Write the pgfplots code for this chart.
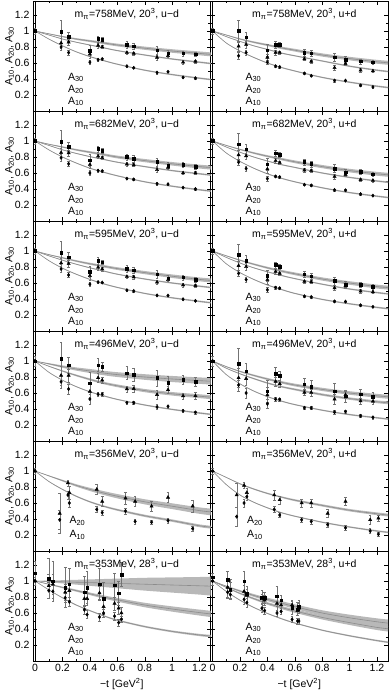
\documentclass[border=0pt]{standalone}
\usepackage{fontspec}
\setmainfont{Liberation Sans}
\usepackage{pgfplots}
\usepackage{pgfplotstable}
\pgfplotsset{compat=1.18}
\usepgfplotslibrary{groupplots,fillbetween}
\usetikzlibrary{calc}

% ---------- fitted curves: t, centre and half width of each band ----------
\pgfplotstableread{
t c1 w1 c2 w2 c3 w3
0 1 0 1 0 1 0
.1 .90 .002 .95 .002 .965 .004
.2 .815 .004 .90 .004 .93 .008
.3 .74 .005 .86 .005 .90 .011
.4 .68 .006 .825 .006 .875 .013
.5 .63 .007 .79 .007 .85 .015
.6 .585 .007 .755 .007 .825 .017
.8 .51 .008 .70 .008 .785 .02
1.0 .455 .009 .65 .009 .75 .022
1.2 .41 .01 .61 .01 .72 .024
1.3 .39 .01 .59 .01 .705 .025
}\CAl
\pgfplotstableread{
t c1 w1 c2 w2 c3 w3
0 1 0 1 0 1 0
.1 .85 .002 .93 .002 .95 .004
.2 .75 .004 .87 .004 .90 .008
.3 .67 .005 .815 .005 .86 .011
.4 .60 .006 .77 .006 .825 .013
.5 .545 .007 .725 .007 .79 .015
.6 .50 .007 .69 .007 .76 .017
.8 .42 .008 .625 .008 .70 .02
1.0 .36 .009 .56 .009 .655 .022
1.2 .31 .01 .51 .01 .615 .024
1.3 .29 .01 .49 .01 .60 .025
}\CAr
\pgfplotstableread{
t c1 w1 c2 w2 c3 w3
0 1 0 1 0 1 0
.1 .89 .002 .945 .002 .96 .004
.2 .80 .004 .89 .004 .925 .008
.3 .725 .005 .845 .005 .89 .011
.4 .66 .006 .805 .006 .86 .013
.5 .61 .007 .77 .007 .83 .015
.6 .565 .007 .735 .007 .80 .017
.8 .49 .008 .68 .008 .755 .02
1.0 .435 .009 .63 .009 .715 .022
1.2 .39 .01 .59 .01 .68 .024
1.3 .37 .01 .57 .01 .665 .025
}\CBl
\pgfplotstableread{
t c1 w1 c2 w2 c3 w3
0 1 0 1 0 1 0
.1 .85 .002 .925 .002 .945 .004
.2 .745 .004 .86 .004 .895 .008
.3 .66 .005 .80 .005 .85 .011
.4 .59 .006 .75 .006 .81 .013
.5 .535 .007 .705 .007 .775 .015
.6 .49 .007 .67 .007 .74 .017
.8 .415 .008 .60 .008 .68 .02
1.0 .355 .009 .545 .009 .63 .022
1.2 .31 .01 .50 .01 .59 .024
1.3 .29 .01 .48 .01 .575 .025
}\CBr
\pgfplotstableread{
t c1 w1 c2 w2 c3 w3
0 1 0 1 0 1 0
.1 .88 .002 .94 .002 .955 .004
.2 .785 .004 .885 .004 .915 .008
.3 .71 .005 .835 .005 .875 .011
.4 .645 .006 .79 .006 .84 .013
.5 .59 .007 .75 .007 .81 .015
.6 .545 .007 .71 .007 .78 .017
.8 .47 .008 .65 .008 .73 .02
1.0 .415 .009 .60 .009 .685 .022
1.2 .37 .01 .56 .01 .645 .024
1.3 .35 .01 .54 .01 .63 .025
}\CCl
\pgfplotstableread{
t c1 w1 c2 w2 c3 w3
0 1 0 1 0 1 0
.1 .84 .002 .92 .002 .94 .004
.2 .73 .004 .85 .004 .885 .008
.3 .645 .005 .79 .005 .835 .011
.4 .575 .006 .74 .006 .79 .013
.5 .52 .007 .695 .007 .75 .015
.6 .47 .007 .655 .007 .715 .017
.8 .395 .008 .585 .008 .65 .02
1.0 .34 .009 .525 .009 .60 .022
1.2 .295 .01 .48 .01 .555 .024
1.3 .275 .01 .46 .01 .54 .025
}\CCr
\pgfplotstableread{
t c1 w1 c2 w2 c3 w3
0 1 0 1 0 1 0
.1 .86 .002 .935 .004 .965 .008
.2 .76 .004 .875 .008 .93 .015
.3 .68 .005 .82 .011 .90 .02
.4 .615 .006 .77 .013 .875 .025
.5 .565 .007 .725 .015 .85 .028
.6 .52 .007 .69 .017 .83 .03
.8 .45 .008 .63 .02 .80 .035
1.0 .395 .009 .59 .022 .775 .038
1.2 .35 .01 .56 .024 .755 .04
1.3 .33 .01 .545 .025 .745 .042
}\CDl
\pgfplotstableread{
t c1 w1 c2 w2 c3 w3
0 1 0 1 0 1 0
.1 .83 .002 .91 .003 .93 .004
.2 .715 .004 .84 .006 .87 .008
.3 .625 .005 .78 .008 .82 .011
.4 .555 .006 .725 .009 .775 .013
.5 .50 .007 .68 .01 .735 .015
.6 .455 .007 .645 .012 .70 .017
.8 .385 .008 .58 .014 .645 .02
1.0 .33 .009 .53 .015 .60 .022
1.2 .29 .01 .49 .017 .565 .024
1.3 .27 .01 .475 .018 .55 .025
}\CDr
\pgfplotstableread{
t c1 w1 c2 w2
0 1 0 1 0
.1 .87 .003 .94 .005
.2 .77 .006 .88 .01
.3 .685 .008 .82 .015
.4 .615 .009 .77 .02
.5 .56 .01 .725 .024
.6 .515 .012 .685 .027
.8 .44 .014 .615 .032
1.0 .38 .015 .56 .036
1.2 .315 .017 .505 .04
1.3 .295 .018 .485 .042
}\CEl
\pgfplotstableread{
t c1 w1 c2 w2
0 1 0 1 0
.1 .83 .002 .92 .003
.2 .70 .004 .84 .006
.3 .61 .005 .775 .008
.4 .54 .006 .72 .009
.5 .48 .007 .675 .01
.6 .435 .007 .635 .012
.8 .36 .008 .57 .014
1.0 .30 .009 .51 .015
1.2 .25 .01 .465 .017
1.3 .23 .01 .445 .018
}\CEr
\pgfplotstableread{
t c1 w1 c2 w2 c3 w3
0 1 0 1 0 1 0
.1 .89 .002 .96 .005 .995 .01
.2 .79 .004 .92 .01 .99 .02
.3 .70 .006 .88 .013 .985 .03
.4 .63 .007 .84 .016 .98 .04
.5 .565 .008 .80 .02 .975 .05
.6 .51 .009 .765 .023 .97 .06
.8 .43 .011 .70 .028 .96 .08
1.0 .37 .012 .65 .033 .95 .095
1.2 .325 .014 .605 .037 .94 .11
1.3 .31 .015 .585 .04 .935 .12
}\CFl
\pgfplotstableread{
t c1 w1 c2 w2 c3 w3
0 1 0 1 0 1 0
.1 .87 .002 .92 .005 .935 .006
.2 .76 .004 .845 .01 .875 .012
.3 .67 .005 .78 .013 .82 .017
.4 .595 .006 .72 .016 .77 .021
.5 .53 .007 .67 .019 .725 .025
.6 .475 .007 .625 .022 .68 .028
.8 .385 .008 .545 .026 .60 .034
1.0 .315 .009 .48 .03 .54 .039
1.2 .255 .01 .42 .033 .49 .043
1.3 .23 .01 .40 .035 .47 .045
}\CFr

% ---------- lattice points: t, A10, A20, A30 with errors ----------
\pgfplotstableread{
t y1 e1 y2 e2 y3 e3
0 1 .04 1 .04 1 .04
.19 .80 .04 .85 .06 .99 .14
.245 .73 .03 .86 .04 .93 .06
.40 .61 .03 .71 .05 .75 .07
.46 .64 .015 .82 .03 .90 .04
.49 .65 .01 .80 .02 .89 .03
.67 .56 .01 .73 .02 .83 .04
.72 .54 .01 .72 .02 .81 .04
.89 .48 .015 .67 .03 .76 .05
.97 .49 .01 .69 .02 .72 .04
1.08 .42 .01 .61 .02 .72 .03
1.17 .41 .01 .62 .02 .71 .03
}\PAl
\pgfplotstableread{
t y1 e1 y2 e2 y3 e3
0 1 .04 1 .04 1 .04
.19 .69 .04 .81 .06 1.00 .14
.245 .73 .03 .83 .04 .92 .06
.40 .61 .03 .67 .04 .76 .07
.46 .56 .015 .73 .03 .83 .04
.49 .55 .01 .73 .02 .83 .03
.67 .47 .01 .65 .02 .73 .04
.72 .44 .01 .62 .02 .72 .04
.89 .38 .015 .54 .03 .67 .05
.97 .38 .01 .59 .02 .64 .04
1.08 .32 .01 .51 .02 .62 .03
1.17 .30 .01 .50 .02 .61 .03
}\PAr
\pgfplotstableread{
t y1 e1 y2 e2 y3 e3
0 1 .04 1 .04 1 .04
.19 .79 .04 .855 .06 .99 .14
.245 .715 .03 .85 .04 .93 .06
.40 .60 .03 .705 .05 .76 .07
.46 .63 .015 .81 .03 .90 .04
.49 .625 .01 .79 .02 .88 .03
.67 .53 .01 .71 .02 .80 .04
.72 .52 .01 .70 .02 .78 .04
.89 .465 .015 .64 .03 .74 .05
.97 .46 .01 .67 .02 .69 .04
1.08 .417 .01 .60 .02 .70 .03
1.17 .40 .01 .60 .02 .675 .03
}\PBl
\pgfplotstableread{
t y1 e1 y2 e2 y3 e3
0 1 .04 1 .04 1 .04
.19 .735 .04 .826 .06 .96 .14
.245 .656 .03 .813 .04 .895 .06
.40 .53 .03 .65 .05 .71 .07
.46 .557 .015 .753 .03 .849 .04
.49 .55 .01 .73 .02 .828 .03
.67 .454 .01 .635 .02 .739 .04
.72 .445 .01 .628 .02 .714 .04
.89 .388 .015 .555 .03 .657 .05
.97 .384 .01 .583 .02 .608 .04
1.08 .337 .01 .517 .02 .614 .03
1.17 .317 .01 .507 .02 .586 .03
}\PBr
\pgfplotstableread{
t y1 e1 y2 e2 y3 e3
0 1 .04 1 .04 1 .04
.19 .775 .04 .85 .06 .98 .14
.245 .70 .03 .84 .04 .92 .06
.40 .585 .03 .69 .05 .74 .07
.46 .612 .015 .796 .03 .88 .04
.49 .606 .01 .774 .02 .86 .03
.67 .51 .01 .68 .02 .78 .04
.72 .50 .01 .674 .02 .76 .04
.89 .445 .015 .61 .03 .71 .05
.97 .443 .01 .64 .02 .66 .04
1.08 .397 .01 .574 .02 .67 .03
1.17 .377 .01 .566 .02 .64 .03
}\PCl
\pgfplotstableread{
t y1 e1 y2 e2 y3 e3
0 1 .04 1 .04 1 .04
.19 .72 .04 .817 .06 .95 .14
.245 .642 .03 .803 .04 .882 .06
.40 .515 .03 .64 .05 .69 .07
.46 .542 .015 .743 .03 .826 .04
.49 .535 .01 .72 .02 .804 .03
.67 .434 .01 .62 .02 .712 .04
.72 .425 .01 .613 .02 .686 .04
.89 .37 .015 .538 .03 .627 .05
.97 .368 .01 .564 .02 .577 .04
1.08 .322 .01 .497 .02 .582 .03
1.17 .302 .01 .487 .02 .552 .03
}\PCr
\pgfplotstableread{
t y1 e1 y2 e2 y3 e3
0 1 .06 1 .06 1 .06
.19 .74 .08 .82 .12 1.03 .2
.245 .65 .06 .82 .08 .95 .1
.40 .525 .06 .62 .1 .725 .14
.46 .585 .03 .79 .06 .95 .08
.49 .585 .02 .76 .04 .93 .06
.67 .48 .02 .65 .04 .85 .08
.72 .478 .02 .654 .04 .827 .08
.89 .425 .03 .58 .06 .79 .1
.97 .433 .02 .64 .04 .73 .08
1.08 .377 .02 .563 .04 .767 .06
1.17 .357 .02 .565 .04 .743 .06
}\PDl
\pgfplotstableread{
t y1 e1 y2 e2 y3 e3
0 1 .06 1 .06 1 .06
.19 .70 .08 .79 .12 .965 .2
.245 .60 .06 .78 .08 .875 .1
.40 .465 .06 .575 .1 .625 .14
.46 .522 .03 .743 .06 .84 .08
.49 .52 .02 .715 .04 .815 .06
.67 .415 .02 .607 .04 .71 .08
.72 .413 .02 .606 .04 .682 .08
.89 .36 .03 .523 .06 .622 .1
.97 .368 .02 .578 .04 .56 .08
1.08 .314 .02 .50 .04 .586 .06
1.17 .296 .02 .496 .04 .554 .06
}\PDr
\pgfplotstableread{
t y1 e1 y2 e2
0 1 .04 1 .04
.18 .39 .12 .47 .25
.24 .70 .05 .85 .04
.25 .60 .05 .73 .08
.45 .52 .04 .77 .06
.49 .48 .03 .62 .06
.66 .50 .04 .66 .07
.73 .37 .03 .62 .06
.85 .36 .03 .56 .06
.97 .38 .03 .67 .06
1.15 .28 .03 .56 .07
}\PEl
\pgfplotstableread{
t y1 e1 y2 e2
0 1 .04 1 .04
.176 .43 .12 .70 .15
.23 .60 .05 .82 .04
.25 .68 .05 .73 .06
.45 .52 .04 .70 .06
.49 .45 .03 .64 .05
.65 .39 .03 .60 .05
.72 .37 .03 .60 .05
.84 .33 .03 .47 .05
.97 .29 .03 .62 .05
1.15 .25 .03 .39 .06
1.21 .21 .02 .41 .04
}\PEr
\pgfplotstableread{
t y1 e1 y2 e2 y3 e3
0 1 .05 1 .05 1.10 .15
.10 .88 .10 .94 .15 1.03 .25
.13 .87 .08 .96 .12 1.00 .25
.22 .79 .06 .86 .10 .92 .25
.25 .74 .06 .88 .08 .96 .2
.36 .64 .05 .78 .08 .86 .2
.38 .58 .05 .78 .08 .92 .2
.47 .55 .05 .85 .08 .96 .2
.50 .60 .05 .68 .08 .78 .2
.58 .56 .05 .72 .08 .95 .15
.61 .48 .04 .66 .07 .85 .15
.63 .52 .04 .60 .07 1.08 .15
}\PFl
\pgfplotstableread{
t y1 e1 y2 e2 y3 e3
0 1 .05 1 .05 1.05 .05
.11 .86 .08 .92 .12 1.02 .1
.13 .83 .06 .88 .1 .90 .12
.23 .77 .06 .87 .08 1.0 .12
.25 .73 .06 .82 .08 .84 .1
.36 .66 .05 .78 .06 .80 .08
.38 .63 .04 .76 .06 .79 .07
.47 .60 .04 .72 .08 .81 .12
.50 .62 .04 .70 .06 .76 .06
.58 .52 .04 .70 .06 .67 .08
.62 .50 .04 .63 .06 .65 .08
.63 .50 .04 .66 .06 .68 .08
}\PFr

\pgfplotsset{
  bandfill/.style={fill=black!28, draw=none},
  fitline/.style={black!45, line width=0.6pt, smooth},
  m1/.style={mark=diamond*, mark size=1.7pt},
  m2/.style={mark=triangle*, mark size=1.9pt},
  m3/.style={mark=square*, mark size=1.3pt},
  ebar/.style={error bars/.cd, y dir=both, y explicit,
    error bar style={black!55, line width=0.35pt},
    error mark options={rotate=90, black!55, mark size=1.3pt, line width=0.35pt}},
}
\tikzset{lab/.style={font=\fontsize{10.5}{12}\selectfont, inner sep=0pt}}

\newcommand\fit[2]{%
  \addplot[name path=bup, draw=none, smooth, forget plot] table[x=t, y expr=\thisrow{c#2}+\thisrow{w#2}]{#1};
  \addplot[name path=blo, draw=none, smooth, forget plot] table[x=t, y expr=\thisrow{c#2}-\thisrow{w#2}]{#1};
  \addplot[bandfill, forget plot] fill between[of=bup and blo];
  \addplot[fitline, forget plot] table[x=t, y=c#2]{#1};
}
\newcommand\pts[3]{%
  \addplot[only marks, black, #3, ebar] table[x=t, y=y#2, y error=e#2]{#1};
}
\newcommand\three[3]{%
  \fit{#1}{3}\fit{#1}{2}\fit{#1}{1}
  \draw[line width=0.7pt] (axis cs:0,0) -- (axis cs:0,1.375);
  \pts{#2}{1}{m1}\pts{#2}{2}{m2}\pts{#2}{3}{m3}
  \node[lab] at (axis cs:0.67,1.21) {#3};
  \node[lab, anchor=west] at (axis cs:0.24,0.42) {A\textsubscript{30}};
  \node[lab, anchor=west] at (axis cs:0.24,0.27) {A\textsubscript{20}};
  \node[lab, anchor=west] at (axis cs:0.24,0.12) {A\textsubscript{10}};
}
\newcommand\two[3]{%
  \fit{#1}{2}\fit{#1}{1}
  \draw[line width=0.7pt] (axis cs:0,0) -- (axis cs:0,1.375);
  \pts{#2}{1}{m1}\pts{#2}{2}{m2}
  \node[lab] at (axis cs:0.67,1.21) {#3};
  \node[lab, anchor=west] at (axis cs:0.25,0.38) {A\textsubscript{20}};
  \node[lab, anchor=west] at (axis cs:0.25,0.20) {A\textsubscript{10}};
}

\begin{document}
\begin{tikzpicture}
\begin{groupplot}[
  group style={group size=2 by 6, horizontal sep=0pt, vertical sep=0pt,
    xticklabels at=edge bottom, yticklabels at=edge left,
    xlabels at=edge bottom, ylabels at=edge left},
  width=177.5pt, height=110pt, scale only axis,
  xmin=-0.015, xmax=1.28, ymin=0, ymax=1.375,
  xtick={0,0.2,0.4,0.6,0.8,1,1.2},
  ytick={0.2,0.4,0.6,0.8,1,1.2},
  minor x tick num=1, minor y tick num=1,
  tick align=inside, major tick length=4pt, minor tick length=2.2pt,
  tick style={black, line width=0.4pt},
  axis line style={line width=0.5pt},
  ticklabel style={font=\fontsize{10.5}{12}\selectfont},
  /pgf/number format/assume math mode=true,
  xlabel={−t [GeV\textsuperscript{2}]},
  ylabel={A\textsubscript{10}, A\textsubscript{20}, A\textsubscript{30}},
  label style={font=\fontsize{10.5}{12}\selectfont},
  ylabel shift=-6pt,
]
\nextgroupplot \three{\CAl}{\PAl}{m\textsubscript{π}=758MeV, 20\textsuperscript{3}, u−d}
\nextgroupplot \three{\CAr}{\PAr}{m\textsubscript{π}=758MeV, 20\textsuperscript{3}, u+d}
\nextgroupplot \three{\CBl}{\PBl}{m\textsubscript{π}=682MeV, 20\textsuperscript{3}, u−d}
\nextgroupplot \three{\CBr}{\PBr}{m\textsubscript{π}=682MeV, 20\textsuperscript{3}, u+d}
\nextgroupplot \three{\CCl}{\PCl}{m\textsubscript{π}=595MeV, 20\textsuperscript{3}, u−d}
\nextgroupplot \three{\CCr}{\PCr}{m\textsubscript{π}=595MeV, 20\textsuperscript{3}, u+d}
\nextgroupplot \three{\CDl}{\PDl}{m\textsubscript{π}=496MeV, 20\textsuperscript{3}, u−d}
\nextgroupplot \three{\CDr}{\PDr}{m\textsubscript{π}=496MeV, 20\textsuperscript{3}, u+d}
\nextgroupplot \two{\CEl}{\PEl}{m\textsubscript{π}=356MeV, 20\textsuperscript{3}, u−d}
\nextgroupplot \two{\CEr}{\PEr}{m\textsubscript{π}=356MeV, 20\textsuperscript{3}, u+d}
\nextgroupplot \three{\CFl}{\PFl}{m\textsubscript{π}=353MeV, 28\textsuperscript{3}, u−d}
\nextgroupplot \three{\CFr}{\PFr}{m\textsubscript{π}=353MeV, 28\textsuperscript{3}, u+d}
\end{groupplot}
\pgfresetboundingbox
\path[use as bounding box] ($(group c1r1.north west)+(-33pt,1pt)$) rectangle ($(group c2r6.south east)+(2pt,-29pt)$);
\end{tikzpicture}
\end{document}
